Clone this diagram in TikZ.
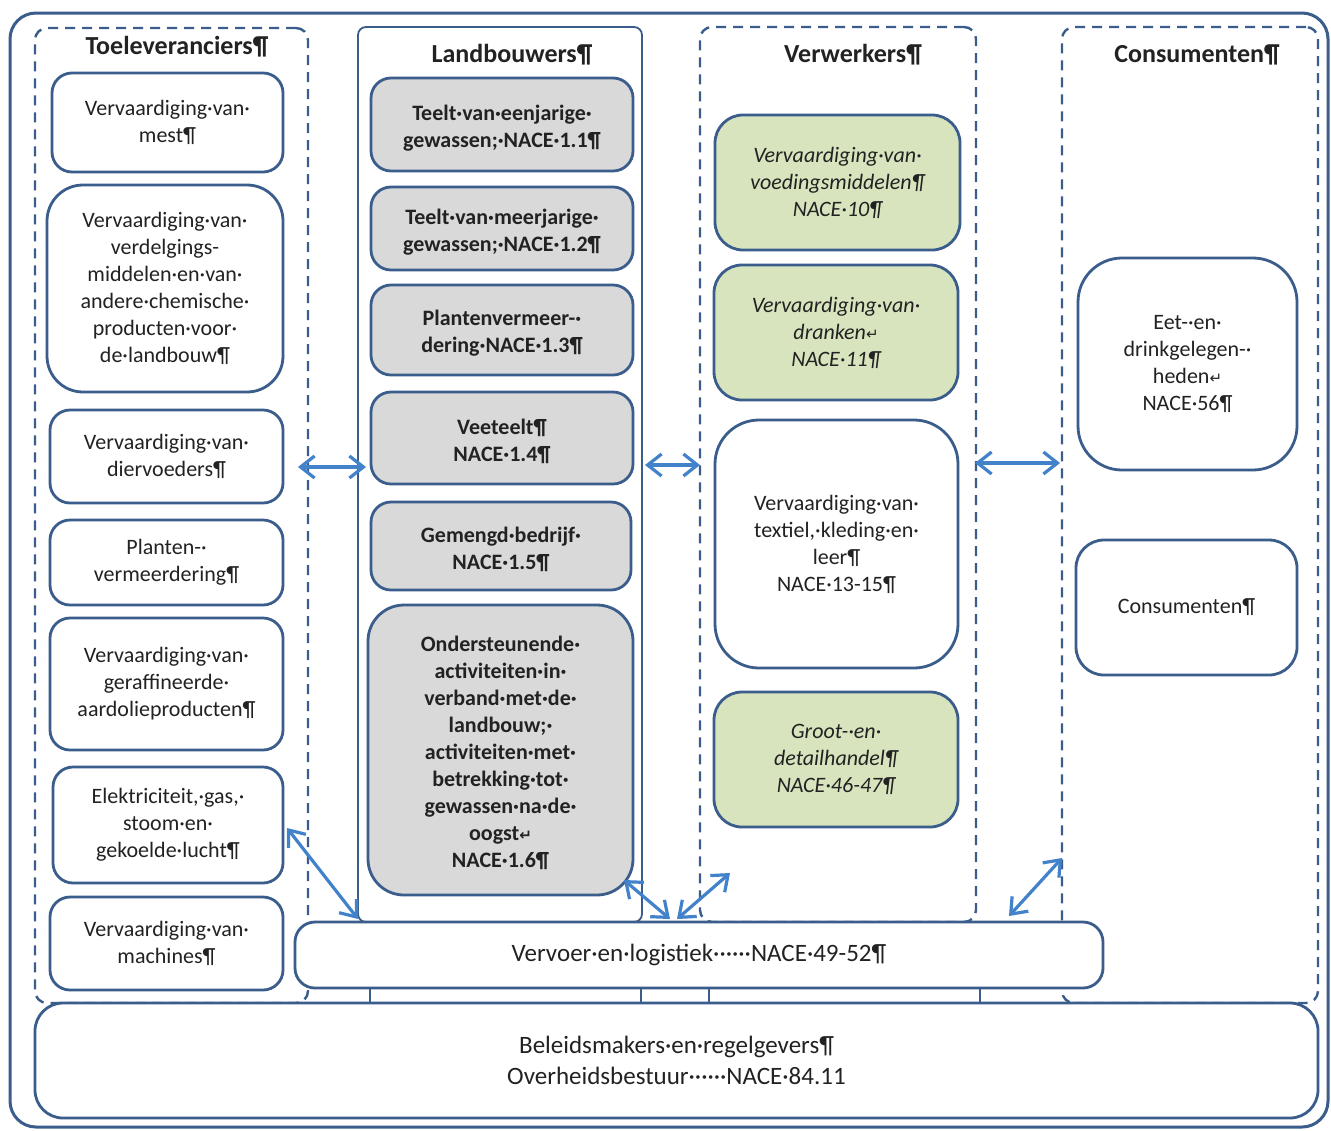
\documentclass[tikz,border=0pt]{standalone}
\usepackage{fontspec}
\setmainfont{Carlito}
\newfontfamily\djfont{DejaVu Sans}
\usetikzlibrary{fit,arrows.meta}
\newcommand\retmark{{\djfont\fontsize{7.5}{7.5}\selectfont ↵}}
\newcommand\tx[2][0pt]{\rule{0pt}{#1}#2}
\definecolor{bord}{HTML}{3A5D8C}
\definecolor{arrc}{HTML}{4282CA}
\definecolor{greyf}{HTML}{D9D9D9}
\definecolor{greenf}{HTML}{D7E4BD}
\definecolor{txt}{HTML}{222222}
\begin{document}
\begin{tikzpicture}[x=0.5pt,y=-0.5pt,
  every node/.style={text=txt},
  bx/.style={draw=bord, line width=1.4pt, rounded corners=10pt, inner sep=0pt, align=center,
    font=\fontsize{11}{13.5}\selectfont},
  bigbx/.style={bx, rounded corners=18pt},
  landbx/.style={bx, fill=greyf, font=\bfseries\fontsize{11}{13.5}\selectfont},
  greenbx/.style={bx, fill=greenf, font=\itshape\fontsize{11}{13.5}\selectfont},
  grp/.style={draw=bord, line width=1.2pt, dash pattern=on 5pt off 3.5pt, rounded corners=6pt, inner sep=0pt},
  ttl/.style={font=\bfseries\fontsize{13}{15}\selectfont},
  arr/.style={draw=arrc, line width=1.6pt, {Straight Barb[length=7pt,width=11pt]}-{Straight Barb[length=7pt,width=11pt]}},
  seg/.style={draw=bord, line width=0.9pt}
]
\useasboundingbox (0,0) rectangle (1331,1130);
\fill[white] (0,0) rectangle (1331,1130);

% outer frame
\node[draw=bord, line width=1.5pt, rounded corners=13pt, inner sep=0pt, fit={(10,13) (1328,1127)}] (outer) {};

% group frames
\node[grp, fit={(35,28) (308,1003)}] (toeg) {};
\node[draw=bord, line width=0.9pt, rounded corners=4pt, inner sep=0pt, fit={(358,27) (642,922)}] (landg) {};
\node[grp, fit={(700,27) (976,922)}] (verwg) {};
\node[grp, fit={(1062,27) (1318,1003)}] (consg) {};

% titles
\node[ttl] (toet) at (177,47) {Toeleveranciers¶};
\node[ttl] (landt) at (512,55) {Landbouwers¶};
\node[ttl] (verwt) at (853,55) {Verwerkers¶};
\node[ttl] (const) at (1197,55) {Consumenten¶};

% Toeleveranciers
\node[bx, minimum width=115.5pt, minimum height=49.5pt] (t1) at (167.5,122.5) {Vervaardiging·van·\\mest¶};
\node[bigbx, minimum width=118pt, minimum height=103.5pt] (t2) at (165,288.5) {Vervaardiging·van·\\verdelgings-\\middelen·en·van·\\andere·chemische·\\producten·voor·\\de·landbouw¶};
\node[bx, minimum width=116.5pt, minimum height=46.5pt] (t3) at (166.5,456.5) {Vervaardiging·van·\\diervoeders¶};
\node[bx, minimum width=116.5pt, minimum height=42.5pt] (t4) at (166.5,562.5) {Planten-·\\vermeerdering¶};
\node[bx, minimum width=116.5pt, minimum height=66pt] (t5) at (166.5,684) {Vervaardiging·van·\\geraffineerde·\\aardolieproducten¶};
\node[bx, minimum width=115pt, minimum height=58pt] (elek) at (168,825) {Elektriciteit,·gas,·\\stoom·en·\\gekoelde·lucht¶};
\node[bx, minimum width=116.5pt, minimum height=46.5pt] (t7) at (166.5,943.5) {Vervaardiging·van·\\machines¶};

% Landbouwers
\node[landbx, minimum width=131pt, minimum height=46.5pt] (l1) at (502,124.5) {\tx[11pt]{Teelt·van·eenjarige·}\\gewassen;·NACE·1.1¶};
\node[landbx, minimum width=131pt, minimum height=41.5pt] (l2) at (502,228.5) {\tx[11pt]{Teelt·van·meerjarige·}\\gewassen;·NACE·1.2¶};
\node[landbx, minimum width=131pt, minimum height=45pt] (l3) at (502,330) {\tx[11pt]{Plantenvermeer-·}\\dering·NACE·1.3¶};
\node[landbx, minimum width=131pt, minimum height=46pt] (l4) at (502,438) {\tx[11pt]{Veeteelt¶}\\NACE·1.4¶};
\node[landbx, minimum width=130pt, minimum height=44pt] (l5) at (501,546) {\tx[11pt]{Gemengd·bedrijf·}\\NACE·1.5¶};
\node[landbx, rounded corners=18pt, minimum width=132.5pt, minimum height=145pt] (onder) at (500.5,750) {\tx[11pt]{Ondersteunende·}\\activiteiten·in·\\verband·met·de·\\landbouw;·\\activiteiten·met·\\betrekking·tot·\\gewassen·na·de·\\oogst\retmark\\NACE·1.6¶};

% Verwerkers
\node[greenbx, rounded corners=14pt, minimum width=122.5pt, minimum height=67.5pt] (v1) at (837.5,182.5) {Vervaardiging·van·\\voedingsmiddelen¶\\NACE·10¶};
\node[greenbx, rounded corners=14pt, minimum width=122pt, minimum height=67.5pt] (v2) at (836,332.5) {Vervaardiging·van·\\dranken\retmark\\NACE·11¶};
\node[bigbx, rounded corners=22pt, minimum width=121.5pt, minimum height=124pt] (v3) at (836.5,544) {Vervaardiging·van·\\textiel,·kleding·en·\\leer¶\\NACE·13-15¶};
\node[greenbx, rounded corners=14pt, minimum width=122pt, minimum height=67.5pt] (v4) at (836,759.5) {Groot-·en·\\detailhandel¶\\NACE·46-47¶};

% Consumenten
\node[bigbx, rounded corners=22pt, minimum width=109.5pt, minimum height=106pt] (c1) at (1187.5,364) {Eet-·en·\\drinkgelegen-·\\heden\retmark\\NACE·56¶};
\node[bx, rounded corners=14pt, minimum width=110.5pt, minimum height=67.5pt] (c2) at (1186.5,607.5) {Consumenten¶};

% Vervoer
\node[bx, fill=white, font=\fontsize{12.5}{15.5}\selectfont, minimum width=404pt, minimum height=33pt] (vervoer) at (699,955) {Vervoer·en·logistiek······NACE·49-52¶};

% small segments between Vervoer and Beleidsmakers
\draw[seg] (370,988) -- (370,1003);
\draw[seg] (641,988) -- (641,1003);
\draw[seg] (709,988) -- (709,1003);
\draw[seg] (980,988) -- (980,1003);

% Beleidsmakers
\node[bx, fill=white, rounded corners=14pt, font=\fontsize{12.5}{15.5}\selectfont, minimum width=641.5pt, minimum height=57.5pt] (beleid) at (676.5,1060.5) {Beleidsmakers·en·regelgevers¶\\Overheidsbestuur······NACE·84.11};

% arrows
\coordinate (a1l) at (298,467); \coordinate (a1r) at (366,467);
\coordinate (a2l) at (645,465); \coordinate (a2r) at (700,465);
\coordinate (a3l) at (975,463); \coordinate (a3r) at (1060,463);
\coordinate (a4s) at (287,828); \coordinate (a4e) at (358,919);
\coordinate (a5s) at (624,880); \coordinate (a5e) at (670,919);
\coordinate (a6s) at (677,919); \coordinate (a6e) at (730,873);
\coordinate (a7s) at (1009,916); \coordinate (a7e) at (1062,858);
\draw[arr] (a1l) -- (a1r);
\draw[arr] (a2l) -- (a2r);
\draw[arr] (a3l) -- (a3r);
\draw[arr] (a4s) -- (a4e);
\draw[arr] (a5s) -- (a5e);
\draw[arr] (a6s) -- (a6e);
\draw[arr] (a7s) -- (a7e);
\end{tikzpicture}
\end{document}
